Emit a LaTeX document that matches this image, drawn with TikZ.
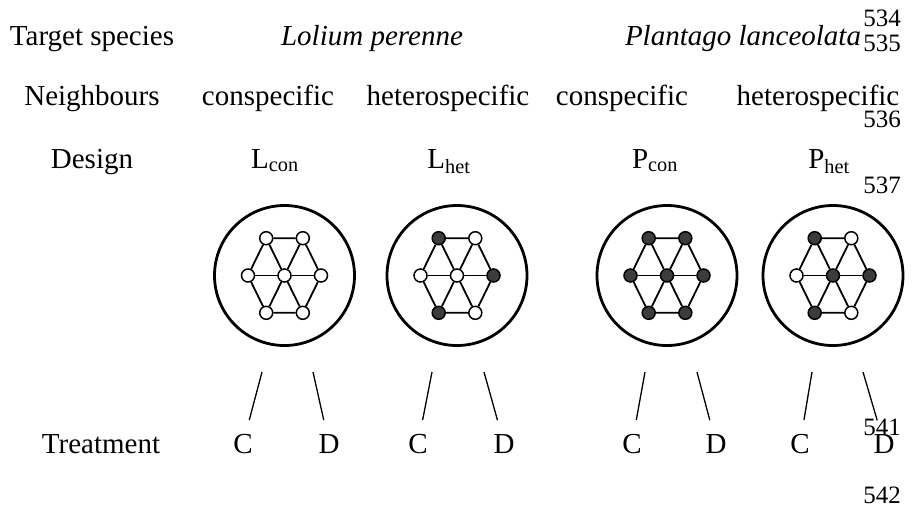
\documentclass[tikz,border=0pt]{standalone}
\usepackage{fontspec}
\setmainfont{Liberation Serif}
\usetikzlibrary{positioning}
\definecolor{pladark}{HTML}{3C3C3C}

\begin{document}
\begin{tikzpicture}[x=1pt, y=-1pt,
  lbl/.style={font=\fontsize{29}{34}\selectfont, inner sep=0pt, anchor=base},
  species/.style={lbl, font=\fontsize{29}{34}\selectfont\itshape},
  lineno/.style={font=\fontsize{25}{28}\selectfont, inner sep=0pt, anchor=base east},
  pot/.style={circle, draw, line width=2.8pt, minimum size=140pt, inner sep=0pt},
  plant/.style={circle, draw, line width=1.5pt, minimum size=13pt, inner sep=0pt},
  lol/.style={fill=white},
  pla/.style={fill=pladark},
  link/.style={line width=1.8pt},
  stem/.style={line width=1.3pt, shorten >=14pt}]

  \useasboundingbox (0,0) rectangle (912,507);

  % row headings
  \node[lbl] (tsp) at (92,45) {Target species};
  \node[lbl] (nbr) at (92,105) {Neighbours};
  \node[lbl] (dsg) at (92,168) {Design};
  \node[lbl] (trt) at (101,453) {Treatment};

  % target species
  \node[species] (lol) at (372,45) {Lolium perenne};
  \node[species] (pla) at (743,45) {Plantago lanceolata};

  % neighbours
  \node[lbl] (nLc) at (268,105) {conspecific};
  \node[lbl] (nLh) at (448,105) {heterospecific};
  \node[lbl] (nPc) at (622,105) {conspecific};
  \node[lbl] (nPh) at (818,105) {heterospecific};

  % design labels
  \node[lbl] (dLc) at (275,168) {L\textsubscript{con}};
  \node[lbl] (dLh) at (449,168) {L\textsubscript{het}};
  \node[lbl] (dPc) at (655,168) {P\textsubscript{con}};
  \node[lbl] (dPh) at (829,168) {P\textsubscript{het}};

  % pots with hexagonal planting (0 = centre, 1..6 round the rim)
  \foreach \nm/\cx/\pat in {Lc/284.5/{lol,lol,lol,lol,lol,lol,lol},
                            Lh/457/{lol,pla,lol,pla,lol,pla,lol},
                            Pc/667/{pla,pla,pla,pla,pla,pla,pla},
                            Ph/833/{pla,pla,lol,pla,lol,pla,lol}} {
    \node[pot] (\nm) at (\cx,275.5) {};
    \foreach \s [count=\k from 0] in \pat {
      \pgfmathsetmacro\hx{{0,36.5,18.3,-18.3,-36.5,-18.3,18.3}[\k]}
      \pgfmathsetmacro\hy{{0,0,-37.3,-37.3,0,37.3,37.3}[\k]}
      \node[plant, \s] (\nm\k) at (\cx+\hx,275.5+\hy) {};
    }
    \foreach \k in {1,...,6}
      \draw[link] (\nm0) -- (\nm\k);
    \draw[link] (\nm1) -- (\nm2) -- (\nm3) -- (\nm4) -- (\nm5) -- (\nm6) -- (\nm1);
  }

  % treatments
  \foreach \nm/\tl/\tr/\xc/\xd in {Lc/262/313/243/329, Lh/432/484/418/504,
                                   Pc/645/697/632/716, Ph/812/863/800/884} {
    \coordinate (\nm-cl) at (\tl,372);
    \coordinate (\nm-cr) at (\tr,372);
    \node[lbl] (\nm-C) at (\xc,453) {C};
    \node[lbl] (\nm-D) at (\xd,453) {D};
    \draw[stem] (\nm-cl) -- (\nm-C);
    \draw[stem] (\nm-cr) -- (\nm-D);
  }

  % line numbers
  \node[lineno] (n534) at (901,26) {534};
  \node[lineno] (n535) at (901,51) {535};
  \node[lineno] (n536) at (901,127) {536};
  \node[lineno] (n537) at (901,193) {537};
  \node[lineno] (n541) at (901,435) {541};
  \node[lineno] (n542) at (901,503) {542};

\end{tikzpicture}
\end{document}
